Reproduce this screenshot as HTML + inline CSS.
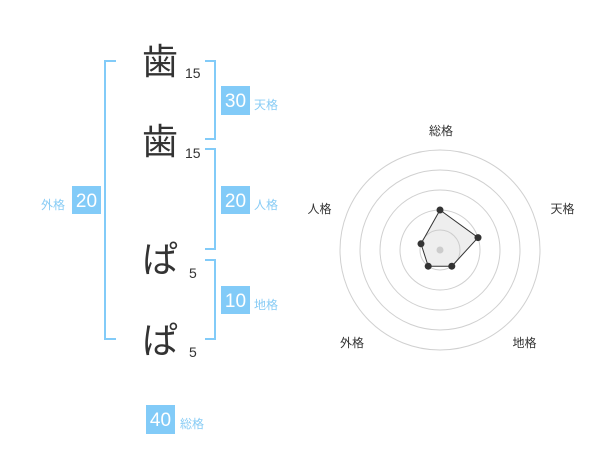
<!DOCTYPE html>
<html><head><meta charset="utf-8"><style>
html,body{margin:0;padding:0;background:#fff;}
svg{display:block;}
text{font-family:"Liberation Sans","Noto Sans CJK JP",sans-serif;}
</style></head><body>
<svg width="600" height="470" viewBox="0 0 600 470" xmlns="http://www.w3.org/2000/svg">
<g fill="none" stroke="#82cbf8" stroke-width="2">
<path d="M116,61 H105 V339 H116"/>
<path d="M205,61 H215 V139 H205"/>
<path d="M205,149 H215 V249 H205"/>
<path d="M205,260 H215 V339 H205"/>
</g>
<g font-size="36" fill="#333">
<text x="142" y="74">歯</text>
<text x="142" y="154">歯</text>
<text x="142" y="272">ぱ</text>
<text x="142" y="353">ぱ</text>
</g>
<g font-size="14" fill="#333">
<text x="185" y="78">15</text>
<text x="185" y="158">15</text>
<text x="189" y="278">5</text>
<text x="189" y="357">5</text>
</g>
<g fill="#82cbf8">
<rect x="221" y="86" width="29" height="29"/>
<rect x="221" y="186" width="29" height="28"/>
<rect x="221" y="286" width="29" height="28"/>
<rect x="72" y="186" width="29" height="28"/>
<rect x="146" y="405" width="29" height="29"/>
</g>
<g font-size="19" fill="#fff" text-anchor="middle">
<text x="235.5" y="107">30</text>
<text x="235.5" y="207">20</text>
<text x="235.5" y="307">10</text>
<text x="86.5" y="207">20</text>
<text x="160.5" y="426">40</text>
</g>
<g font-size="12" fill="#88ccf5">
<text x="254" y="109">天格</text>
<text x="254" y="209">人格</text>
<text x="254" y="309">地格</text>
<text x="41" y="209">外格</text>
<text x="180" y="428">総格</text>
</g>
<g fill="none" stroke="#d0d0d0" stroke-width="1">
<circle cx="440" cy="250" r="20"/>
<circle cx="440" cy="250" r="40"/>
<circle cx="440" cy="250" r="60"/>
<circle cx="440" cy="250" r="80"/>
<circle cx="440" cy="250" r="100"/>
</g>
<polygon points="440,210 478,237.6 451.8,266.2 428.2,266.2 421,243.8" fill="rgba(200,200,200,0.3)" stroke="#333" stroke-width="1"/>
<circle cx="440" cy="250" r="3.5" fill="#ccc"/>
<g fill="#333">
<circle cx="440" cy="210" r="3.5"/>
<circle cx="478" cy="237.6" r="3.5"/>
<circle cx="451.8" cy="266.2" r="3.5"/>
<circle cx="428.2" cy="266.2" r="3.5"/>
<circle cx="421" cy="243.8" r="3.5"/>
</g>
<g font-size="12" fill="#333" text-anchor="middle">
<text x="441" y="135">総格</text>
<text x="319.5" y="213">人格</text>
<text x="562.5" y="213">天格</text>
<text x="352" y="347">外格</text>
<text x="524.5" y="347">地格</text>
</g>
</svg>
</body></html>
